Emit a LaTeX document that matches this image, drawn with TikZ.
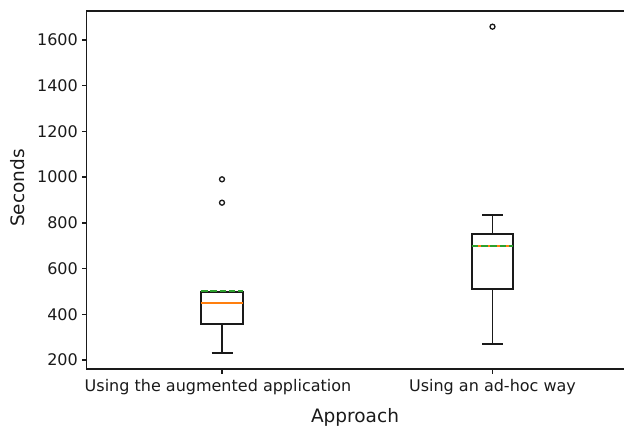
\documentclass[tikz,border=0pt]{standalone}
\usepackage{fontspec}
\setmainfont{DejaVu Sans}
\definecolor{mplorange}{HTML}{FF7F0E}
\definecolor{mplgreen}{HTML}{2CA02C}
\definecolor{ink}{HTML}{1A1A1A}
\begin{document}
\begin{tikzpicture}[x=1pt,y=-1pt,
  frame/.style={line width=1.3pt, draw=ink},
  boxline/.style={line width=1.9pt, draw=ink},
  medline/.style={line width=1.9pt, draw=mplorange},
  meanline/.style={line width=1.9pt, draw=mplgreen, dash pattern=on 6.5pt off 2.8pt},
  flier/.style={line width=1.3pt, draw=ink, fill=white},
  ticklab/.style={font=\fontsize{16}{19}\selectfont, text=ink, inner sep=0pt},
  axlab/.style={font=\fontsize{18.5}{22}\selectfont, text=ink, inner sep=0pt}]
\useasboundingbox (0,0) rectangle (624,428);
% axes frame
\coordinate (tl) at (86.5,11);
\coordinate (bl) at (86.5,369);
\coordinate (tr) at (624,11);
\coordinate (br) at (624,369);
\draw[frame] (tr) -- (tl) -- (bl) -- (br);
% y ticks
\foreach \v in {200,400,...,1600}{
  \pgfmathsetmacro{\yy}{360-(\v-200)*0.228571}
  \coordinate (yt\v) at (86.5,\yy);
  \draw[frame] (yt\v) -- ++(-5,0) coordinate (ye\v);
  \node[ticklab, anchor=east] (yl\v) at ([xshift=-3.5pt]ye\v) {\v};
}
% x ticks
\coordinate (xt1) at (222,369);
\coordinate (xt2) at (492.5,369);
\draw[frame] (xt1) -- ++(0,5);
\draw[frame] (xt2) -- ++(0,5);
\node[ticklab, anchor=base] (xl1) at (218,391) {Using the augmented application};
\node[ticklab, anchor=base] (xl2) at (492.5,391) {Using an ad-hoc way};
% axis labels
\node[axlab, anchor=base] (xlab) at (355,422) {Approach};
\node[axlab, anchor=base, rotate=90] (ylab) at (24.5,188) {Seconds};
% box 1
\draw[boxline] (222,324) -- (222,352.7);
\draw[boxline] (211.5,352.7) -- (232.5,352.7);
\draw[boxline] (211.5,292) -- (232.5,292);
\draw[boxline] (201,292) rectangle (243,324);
\draw[medline] (201,303) -- (243,303);
\draw[meanline] (201,291) -- (243,291);
\draw[flier] (222,179.3) circle (2.5);
\draw[flier] (222,202.7) circle (2.5);
% box 2
\draw[boxline] (492.5,234) -- (492.5,215);
\draw[boxline] (482,215) -- (503,215);
\draw[boxline] (492.5,288.7) -- (492.5,344.3);
\draw[boxline] (482,344.3) -- (503,344.3);
\draw[boxline] (471.7,234) rectangle (513.3,288.7);
\draw[medline] (471.7,246) -- (513.3,246);
\draw[meanline] (471.7,246) -- (513.3,246);
\draw[flier] (492.5,26.7) circle (2.5);
\end{tikzpicture}
\end{document}
